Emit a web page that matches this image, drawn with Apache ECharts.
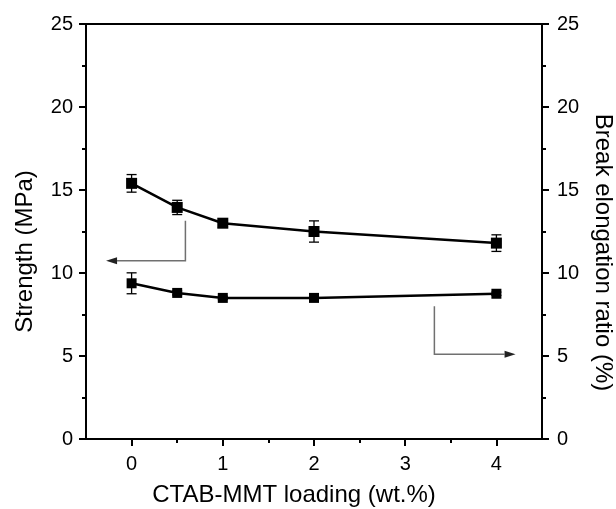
<!DOCTYPE html>
<html>
<head>
<meta charset="utf-8">
<script src="https://cdn.jsdelivr.net/npm/echarts@6/dist/echarts.min.js"></script>
<style>
  html, body { margin: 0; padding: 0; background: #fff; }
  #chart { width: 616px; height: 509px; }
</style>
</head>
<body>
<div id="chart"></div>
<script>
  // CTAB-MMT loading (wt.%)
  var loading = [0, 0.5, 1, 2, 4];
  // strength (MPa), left axis
  var strength = [15.4, 13.95, 13.0, 12.5, 11.8];
  var strengthErr = [0.53, 0.43, 0.25, 0.64, 0.5];
  // break elongation ratio (%), right axis
  var elongation = [9.38, 8.8, 8.5, 8.5, 8.75];
  var elongationErr = [0.63, 0.12, 0.1, 0.1, 0.1];

  var xTicks = [0, 1, 2, 3, 4];
  var xMinorTicks = [0.5, 1.5, 2.5, 3.5];

  // arrows pointing at the axis each curve belongs to: start, corner, tip
  var arrowLeft = [0.59, 13.15, 0.59, 10.74, -0.28, 10.74];
  var arrowRight = [3.32, 8.0, 3.32, 5.1, 4.21, 5.1];

  var font = 'Liberation Sans, Arial, sans-serif';

  function zip(xs, ys) {
    return xs.map(function (x, i) { return [x, ys[i]]; });
  }
  function errData(xs, ys, es) {
    return xs.map(function (x, i) { return [x, ys[i] - es[i], ys[i] + es[i]]; });
  }

  function renderErr(params, api) {
    var lo = api.coord([api.value(0), api.value(1)]);
    var hi = api.coord([api.value(0), api.value(2)]);
    var w = 5;
    var st = { stroke: '#000', lineWidth: 1.3 };
    return {
      type: 'group',
      children: [
        { type: 'line', shape: { x1: lo[0], y1: lo[1], x2: hi[0], y2: hi[1] }, style: st },
        { type: 'line', shape: { x1: lo[0] - w, y1: lo[1], x2: lo[0] + w, y2: lo[1] }, style: st },
        { type: 'line', shape: { x1: hi[0] - w, y1: hi[1], x2: hi[0] + w, y2: hi[1] }, style: st }
      ]
    };
  }

  function renderArrow(params, api) {
    var a = api.coord([api.value(0), api.value(1)]);
    var b = api.coord([api.value(2), api.value(3)]);
    var c = api.coord([api.value(4), api.value(5)]);
    var dx = c[0] - b[0], dy = c[1] - b[1];
    var len = Math.sqrt(dx * dx + dy * dy);
    var ux = dx / len, uy = dy / len;
    var hl = 11, hw = 3.5;
    var base = [c[0] - ux * hl, c[1] - uy * hl];
    return {
      type: 'group',
      children: [
        {
          type: 'polyline',
          shape: { points: [a, b, base] },
          style: { stroke: '#707070', lineWidth: 1.5, fill: null }
        },
        {
          type: 'polygon',
          shape: { points: [c, [base[0] - uy * hw, base[1] + ux * hw], [base[0] + uy * hw, base[1] - ux * hw]] },
          style: { fill: '#222' }
        }
      ]
    };
  }

  var chart = echarts.init(document.getElementById('chart'));

  var yCommon = {
    type: 'value',
    min: 0,
    max: 25,
    interval: 5,
    nameLocation: 'middle',
    axisLine: { show: true, onZero: false, lineStyle: { color: '#000', width: 2 } },
    axisTick: { show: true, inside: false, length: 7, lineStyle: { color: '#000', width: 2 } },
    minorTick: { show: true, splitNumber: 2, length: 4, lineStyle: { color: '#000', width: 2 } },
    splitLine: { show: false }
  };

  var option = {
    backgroundColor: '#fff',
    animation: false,
    grid: {
      left: 86,
      right: 74,
      top: 24,
      bottom: 70,
      outerBoundsMode: 'none',
      containLabel: false,
      show: true,
      borderColor: '#000',
      borderWidth: 2
    },
    xAxis: [
      {
        type: 'value',
        min: -0.5,
        max: 4.5,
        position: 'bottom',
        name: 'CTAB-MMT loading (wt.%)',
        nameLocation: 'middle',
        nameGap: 44,
        nameTextStyle: { fontFamily: font, fontSize: 24, color: '#000', padding: [0, 40, 0, 0] },
        axisLine: { show: true, onZero: false, lineStyle: { color: '#000', width: 2 } },
        axisTick: { show: true, length: 7, customValues: xTicks, lineStyle: { color: '#000', width: 2 } },
        axisLabel: { fontFamily: font, fontSize: 20, color: '#000', margin: 15, customValues: xTicks },
        splitLine: { show: false }
      },
      {
        type: 'value',
        min: -0.5,
        max: 4.5,
        position: 'bottom',
        axisLine: { show: false, onZero: false },
        axisTick: { show: true, length: 4, customValues: xMinorTicks, lineStyle: { color: '#000', width: 2 } },
        axisLabel: { show: false },
        splitLine: { show: false }
      }
    ],
    yAxis: [
      Object.assign({}, yCommon, {
        position: 'left',
        name: 'Strength (MPa)',
        nameGap: 49,
        nameRotate: 90,
        nameTextStyle: { fontFamily: font, fontSize: 24, color: '#000', padding: [0, 40, 0, 0] },
        axisLabel: { fontFamily: font, fontSize: 20, color: '#000', margin: 13 }
      }),
      Object.assign({}, yCommon, {
        position: 'right',
        name: 'Break elongation ratio (%)',
        nameGap: 44,
        nameRotate: -90,
        nameTextStyle: { fontFamily: font, fontSize: 24, color: '#000', padding: [0, 0, 0, 42] },
        axisLabel: { fontFamily: font, fontSize: 20, color: '#000', margin: 15 }
      })
    ],
    series: [
      {
        name: 'Strength',
        type: 'line',
        yAxisIndex: 0,
        data: zip(loading, strength),
        symbol: 'rect',
        symbolSize: 11,
        itemStyle: { color: '#000' },
        lineStyle: { color: '#000', width: 2.5 },
        z: 3
      },
      {
        type: 'custom',
        yAxisIndex: 0,
        data: errData(loading, strength, strengthErr),
        renderItem: renderErr,
        z: 2
      },
      {
        name: 'Break elongation ratio',
        type: 'line',
        yAxisIndex: 1,
        data: zip(loading, elongation),
        symbol: 'rect',
        symbolSize: 10,
        itemStyle: { color: '#000' },
        lineStyle: { color: '#000', width: 2.5 },
        z: 3
      },
      {
        type: 'custom',
        yAxisIndex: 1,
        data: errData(loading, elongation, elongationErr),
        renderItem: renderErr,
        z: 2
      },
      {
        type: 'custom',
        yAxisIndex: 0,
        data: [arrowLeft, arrowRight],
        renderItem: renderArrow,
        silent: true,
        z: 1
      }
    ]
  };

  chart.setOption(option);
</script>
</body>
</html>
